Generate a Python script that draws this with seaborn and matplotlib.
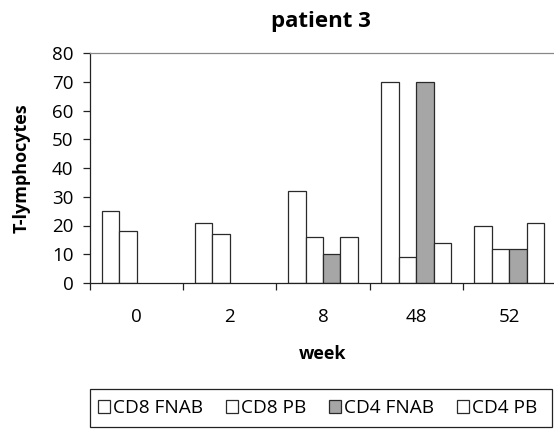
import numpy as np
import pandas as pd
import matplotlib
matplotlib.use("Agg")
import matplotlib.pyplot as plt
from matplotlib.patches import Rectangle
from matplotlib.ticker import FixedLocator
import seaborn as sns

# values (NaN = no bar)
weeks = ["0", "2", "8", "48", "52"]
series = ["CD8 FNAB", "CD8 PB", "CD4 FNAB", "CD4 PB"]
cd8_fnab = [25, 21, 32, 70, 20]
cd8_pb = [18, 17, 16, 9, 12]
cd4_fnab = [np.nan, np.nan, 10, 70, 12]
cd4_pb = [np.nan, np.nan, 16, 14, 21]

colors = ["white", "white", "#a6a6a6", "white"]

rows = []
for name, vals in zip(series, [cd8_fnab, cd8_pb, cd4_fnab, cd4_pb]):
    for w, v in zip(weeks, vals):
        rows.append({"week": w, "series": name, "value": v})
df = pd.DataFrame(rows)

sns.set_style("white")
plt.rcParams["font.family"] = ["Open Sans", "DejaVu Sans"]
plt.rcParams.update({"text.color": "black", "axes.labelcolor": "black",
                     "xtick.color": "black", "ytick.color": "black"})

W, H = 554, 430
fig = plt.figure(figsize=(W / 100, H / 100), dpi=100)
ax = fig.add_axes([90 / W, (H - 283) / H, (556 - 90) / W, (283 - 53) / H])

sns.barplot(data=df, x="week", y="value", hue="series", order=weeks,
            hue_order=series, palette=colors, width=0.75, errorbar=None,
            edgecolor="#2a2a2a", linewidth=0.9, saturation=1, ax=ax)

ax.set_xlim(-0.5, 4.5)
ax.set_ylim(0, 80)
ax.set_yticks(range(0, 81, 10))

# tick marks between the categories, labels centred
ax.tick_params(axis="x", which="major", length=0, labelsize=13.5, pad=18)
ax.xaxis.set_minor_locator(FixedLocator(np.arange(-0.5, 5, 1)))
ax.tick_params(axis="x", which="minor", length=5, width=0.9, direction="out",
               bottom=True, color="#222222")
ax.tick_params(axis="y", length=5, width=0.9, direction="out", left=True,
               labelsize=13.5, pad=7, color="#222222")

for s in ["left", "bottom"]:
    ax.spines[s].set_color("#222222")
    ax.spines[s].set_linewidth(0.9)
ax.spines["top"].set_color("#888888")
ax.spines["top"].set_linewidth(0.9)
ax.spines["right"].set_visible(False)

ax.set_xlabel("week", fontsize=13, fontweight="bold", labelpad=14)
ax.set_ylabel("T-lymphocytes", fontsize=13, fontweight="bold", labelpad=15)
fig.text(321 / W, 1 - 21 / H, "patient 3", ha="center", va="center",
         fontsize=16, fontweight="bold")

# legend: entries without frame, plus a separate box like the original
ax.legend_.remove()
handles, labels = ax.get_legend_handles_labels()
leg = fig.legend(handles, labels, ncol=4, loc="center left",
                 bbox_to_anchor=(98 / W, 1 - 408 / H),
                 frameon=False, fontsize=13.7,
                 handlelength=0.63, handleheight=0.63, handletextpad=0.16,
                 columnspacing=1.2, borderaxespad=0, borderpad=0)
fig.patches.append(Rectangle((90 / W, 1 - 427 / H), (552 - 90) / W, (427 - 389) / H,
                             transform=fig.transFigure, fill=False,
                             edgecolor="#222222", linewidth=0.9))

fig.savefig("out.png", dpi=100)
